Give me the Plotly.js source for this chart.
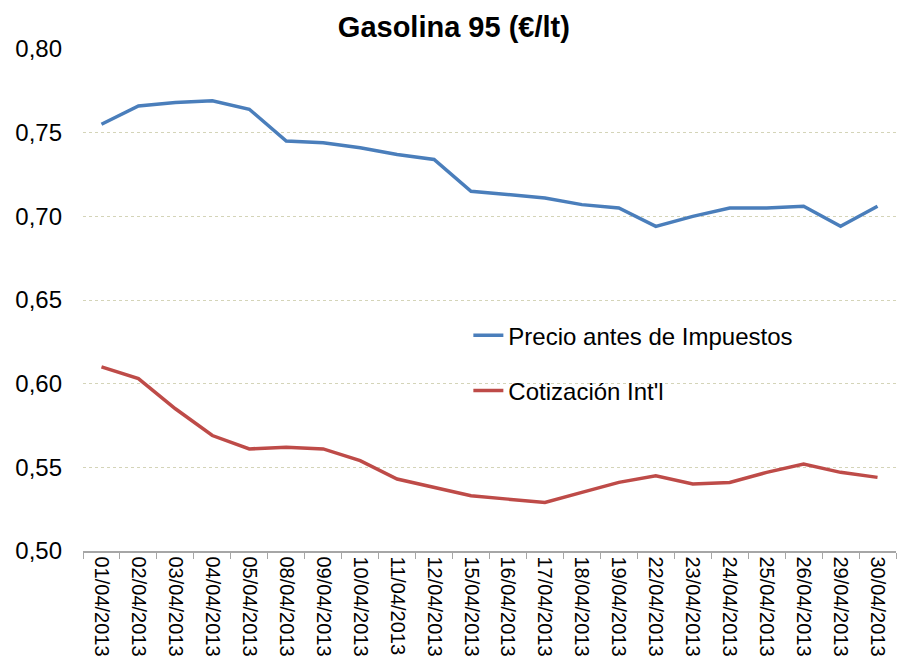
<!DOCTYPE html>
<html>
<head>
<meta charset="utf-8">
<script src="https://cdn.plot.ly/plotly-3.0.1.min.js"></script>
<style>html,body{margin:0;padding:0;background:#fff}#chart{width:897px;height:659px}</style>
</head>
<body>
<div id="chart"></div>
<script>
const fechas = ["01/04/2013","02/04/2013","03/04/2013","04/04/2013","05/04/2013","08/04/2013","09/04/2013","10/04/2013","11/04/2013","12/04/2013","15/04/2013","16/04/2013","17/04/2013","18/04/2013","19/04/2013","22/04/2013","23/04/2013","24/04/2013","25/04/2013","26/04/2013","29/04/2013","30/04/2013"];
const precioAntesImpuestos = [0.755,0.766,0.768,0.769,0.764,0.745,0.744,0.741,0.737,0.734,0.715,0.713,0.711,0.707,0.705,0.694,0.700,0.705,0.705,0.706,0.694,0.706];
const cotizacionIntl = [0.610,0.603,0.585,0.569,0.561,0.562,0.561,0.554,0.543,0.538,0.533,0.531,0.529,0.535,0.541,0.545,0.540,0.541,0.547,0.552,0.547,0.544];
const yTicks = [0.50,0.55,0.60,0.65,0.70,0.75,0.80];

const traces = [
  {x: fechas, y: precioAntesImpuestos, type: 'scatter', mode: 'lines', name: 'Precio antes de Impuestos',
   line: {color: '#4a7ebb', width: 3.5}, legend: 'legend'},
  {x: fechas, y: cotizacionIntl, type: 'scatter', mode: 'lines', name: "Cotización Int'l",
   line: {color: '#be4b48', width: 3.5}, legend: 'legend2'}
];

const legendCommon = {bgcolor: 'rgba(0,0,0,0)', font: {family: 'Liberation Sans, Arial', size: 24, color: '#000'},
  xanchor: 'left', yanchor: 'middle', itemwidth: 30};

const layout = {
  width: 897, height: 659,
  margin: {l: 83, r: 1, t: 49, b: 108},
  paper_bgcolor: '#fff', plot_bgcolor: '#fff',
  separators: ',.',
  title: {text: '<b>Gasolina 95 (€/lt)</b>', font: {family: 'Liberation Sans, Arial', size: 29, color: '#000'},
          x: 0.506, xanchor: 'center', y: 0.96, yanchor: 'middle'},
  xaxis: {type: 'category', tickangle: 90, tickfont: {family: 'Liberation Sans, Arial', size: 20, color: '#000'},
          showline: true, linecolor: '#a6a6a6', linewidth: 1.5, ticks: 'outside', tickson: 'boundaries',
          ticklen: 6, tickcolor: '#a6a6a6', showgrid: false, zeroline: false, range: [-0.5, 21.5]},
  yaxis: {range: [0.5, 0.8], tickvals: yTicks, tickformat: '.2f', showline: false, zeroline: false,
          tickfont: {family: 'Liberation Sans, Arial', size: 24, color: '#000'},
          showgrid: true, gridcolor: '#d4d4b8', griddash: 'dot', gridwidth: 1, ticks: '', ticklabelstandoff: 20},
  legend: Object.assign({x: 0.474, y: 0.429}, legendCommon),
  legend2: Object.assign({x: 0.474, y: 0.319}, legendCommon),
  showlegend: true
};

Plotly.newPlot('chart', traces, layout, {displayModeBar: false, staticPlot: true});
</script>
</body>
</html>
